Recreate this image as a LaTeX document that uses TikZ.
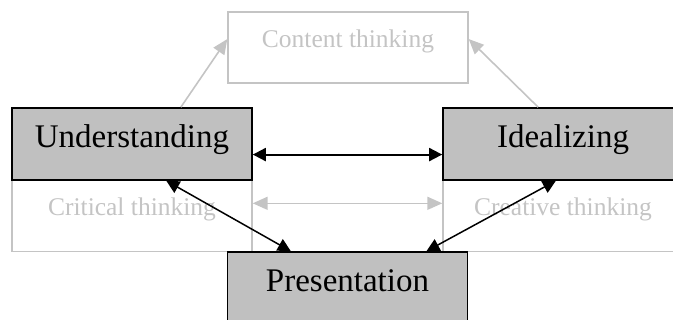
\documentclass[tikz,border=0pt]{standalone}
\usepackage{fontspec}
\setmainfont{Liberation Serif}
\usetikzlibrary{positioning, arrows.meta}

\definecolor{boxfill}{RGB}{192,192,192}
\definecolor{ghostgray}{RGB}{196,196,196}

\begin{document}
\begin{tikzpicture}[x=1pt, y=-1pt,
    mainbox/.style={draw=black, line width=1.6pt, fill=boxfill, minimum width=240pt,
      minimum height=72pt, inner sep=0pt, text height=22pt, text depth=14pt,
      font=\fontsize{33}{36}\selectfont},
    ghostbox/.style={draw=ghostgray, line width=1.4pt, text=ghostgray, minimum width=240pt,
      minimum height=71pt, inner sep=0pt, text height=18pt, text depth=18pt,
      font=\fontsize{25.5}{28}\selectfont},
    link/.style={line width=1.5pt, {Triangle[length=13pt,width=13pt]}-{Triangle[length=13pt,width=13pt]}},
    ghostlink/.style={draw=ghostgray, line width=1.6pt, -{Triangle[length=15pt,width=13pt]}}]
  \useasboundingbox (0,0) rectangle (673,320);

  % Gray thinking boxes
  \node[ghostbox] (content) at (348,47.5) {Content thinking};
  \node[ghostbox] (critical) at (132,216) {Critical thinking};
  \node[ghostbox] (creative) at (563,216) {Creative thinking};

  % Main boxes
  \node[mainbox] (understanding) at (132,144) {Understanding};
  \node[mainbox] (idealizing) at (563,144) {Idealizing};
  \node[mainbox] (presentation) at (347.5,288) {Presentation};

  % Gray arrows
  \draw[ghostlink] (understanding.37) -- (content.176);
  \draw[ghostlink] (idealizing.124) -- (content.4);
  \draw[ghostlink, {Triangle[length=15pt,width=13pt]}-{Triangle[length=15pt,width=13pt]}]
    (critical.6) -- (creative.174);

  % Black arrows
  \draw[link, line width=2pt] (understanding.-5) -- (idealizing.185);
  \draw[link] (understanding.-47.5) -- (presentation.147);
  \draw[link] (idealizing.-101) -- (presentation.25);
\end{tikzpicture}
\end{document}
